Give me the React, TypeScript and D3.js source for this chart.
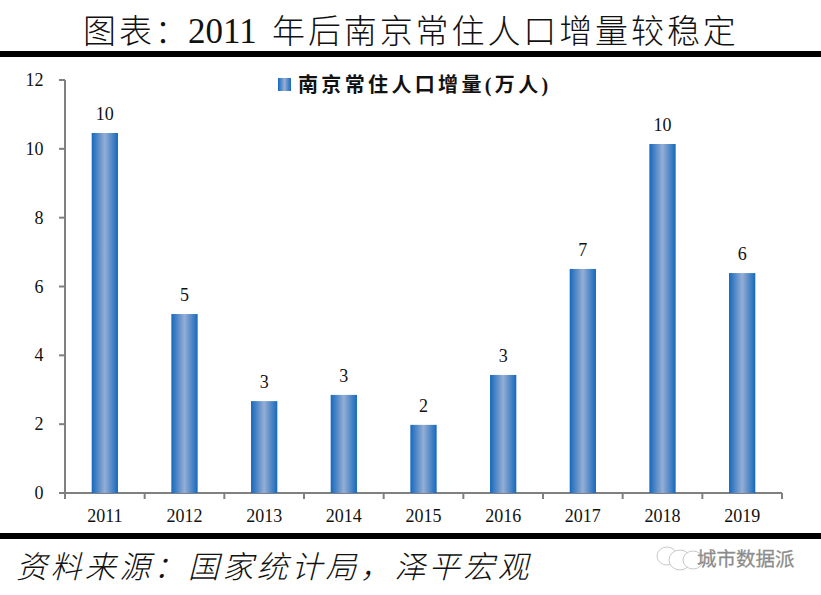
import React from "react";
import * as d3 from "d3";

const years = ["2011", "2012", "2013", "2014", "2015", "2016", "2017", "2018", "2019"];
const growth = [10.46, 5.2, 2.67, 2.85, 1.98, 3.43, 6.51, 10.14, 6.39];
const yTicks = [0, 2, 4, 6, 8, 10, 12];
const titleParts = ["图表：", "2011", "年后南京常住人口增量较稳定"];
const legendText = "南京常住人口增量(万人)";
const sourceText = "资料来源：国家统计局，泽平宏观";
const watermarkText = "城市数据派";

const W = 821, H = 595;
const SERIF = "'Liberation Serif', 'Noto Sans CJK SC', serif";
const x = d3.scaleBand<string>().domain(years).range([65, 782]).paddingInner(0.67).paddingOuter(0.335);
const band = d3.scaleBand<string>().domain(years).range([65, 782]);
const y = d3.scaleLinear().domain([0, 12]).range([493, 80]);
const fmt = d3.format(".0f");
const axisColor = "#808080";

export default function App() {
  const edges = [...years.map((d) => band(d)!), 782];
  return (
    <svg width={W} height={H} viewBox={`0 0 ${W} ${H}`} style={{ position: "absolute", left: 0, top: 0, background: "#fff" }}>
      <defs>
        <linearGradient id="barFill" x1="0" x2="1" y1="0" y2="0">
          <stop offset="0" stopColor="#1668bd" />
          <stop offset="0.5" stopColor="#95aed5" />
          <stop offset="1" stopColor="#1668bd" />
        </linearGradient>
      </defs>

      <text y={43} fontFamily={SERIF} fontSize={33} fontWeight={300} fill="#111">
        <tspan x={83} letterSpacing={2.9}>{titleParts[0]}</tspan>
        <tspan x={188} fontSize={35} letterSpacing={0}>{titleParts[1]}</tspan>
        <tspan x={272} letterSpacing={2.9}>{titleParts[2]}</tspan>
      </text>
      <rect x={0} y={51} width={W} height={6} fill="#000" />
      <rect x={0} y={533} width={W} height={6} fill="#000" />

      <g stroke={axisColor} strokeWidth={2} fill="none">
        <line x1={65} x2={65} y1={y(12)} y2={y(0)} />
        <line x1={59} x2={782} y1={y(0)} y2={y(0)} />
        {yTicks.map((t) => <line key={t} x1={59} x2={65} y1={y(t)} y2={y(t)} />)}
        {edges.map((e, i) => <line key={i} x1={e} x2={e} y1={y(0)} y2={499} />)}
      </g>
      {yTicks.map((t) => (
        <text key={t} x={43.5} y={y(t) + 6} textAnchor="end" fontFamily={SERIF} fontSize={18} fill="#111">{t}</text>
      ))}
      {years.map((d) => (
        <text key={d} x={band(d)! + band.bandwidth() / 2} y={522} textAnchor="middle" fontFamily={SERIF} fontSize={18} fill="#111">{d}</text>
      ))}

      {years.map((d, i) => (
        <g key={d}>
          <rect x={x(d)} y={y(growth[i])} width={x.bandwidth()} height={y(0) - y(growth[i])} fill="url(#barFill)" />
          <text x={x(d)! + x.bandwidth() / 2} y={y(growth[i]) - 13} textAnchor="middle" fontFamily={SERIF} fontSize={18} fill="#111">{fmt(growth[i])}</text>
        </g>
      ))}

      <rect x={278} y={78} width={13} height={13} fill="url(#barFill)" />
      <text x={298} y={92} fontFamily={SERIF} fontSize={20} fontWeight={700} letterSpacing={3.35} fill="#111">{legendText}</text>

      <text x={16} y={578} fontFamily={SERIF} fontSize={31} fontStyle="italic" fontWeight={300} letterSpacing={3.4} fill="#111">{sourceText}</text>

      <g fill="#fff" stroke="#bbb" strokeWidth={0.8}>
        <ellipse cx={667} cy={556} rx={10} ry={9} />
        <ellipse cx={680} cy={560} rx={11} ry={10} />
        <ellipse cx={693} cy={560} rx={10} ry={9} />
      </g>
      <text x={697} y={566} fontFamily="'Noto Sans CJK SC', sans-serif" fontSize={19.5} fill="#888" stroke="#999" strokeWidth={0.3}>{watermarkText}</text>
    </svg>
  );
}
